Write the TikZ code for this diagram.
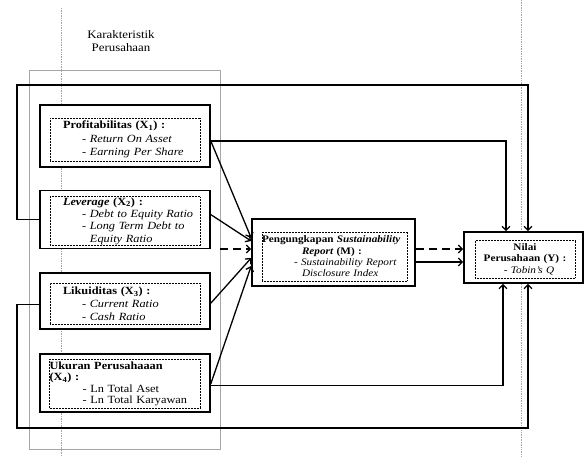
\documentclass[tikz,border=0pt]{standalone}
\usepackage{fontspec}
\setmainfont{Liberation Serif}[FakeStretch=1.12]
\usetikzlibrary{arrows.meta,positioning}

\begin{document}
\begin{tikzpicture}[x=1pt, y=-1pt,
    node distance=22pt,
    var/.style={draw, rectangle, line width=1.6pt, fill=white,
                minimum width=170pt},
    inbox/.style={draw, densely dotted, line width=0.5pt, align=left,
                  inner xsep=13pt, inner ysep=0pt, text width=124pt,
                  font=\fontsize{11}{12.8}\selectfont},
    arr/.style={-{Straight Barb[length=4pt,width=8pt]}, line width=1.3pt},
    dasharr/.style={arr, dash pattern=on 8pt off 5pt},
    page/.style={densely dotted, gray!70, line width=0.7pt},
  ]
    \useasboundingbox (0,0) rectangle (584,457);
    \draw[page] (61,8) -- (61,457);
    \draw[page] (521,0) -- (521,457);

    \node[draw=gray!70, line width=0.7pt, minimum width=191pt, minimum height=379pt] (KP) at (124.5,259.5) {};
    \node[align=center, font=\fontsize{11.5}{12.5}\selectfont] (KPt) at (121,41) {Karakteristik\\Perusahaan};

    \node[var, minimum height=62pt] (P) at (125,136) {};
    \node[var, minimum height=58pt, below=22pt of P] (L) {};
    \node[var, minimum height=56pt, below=23pt of L] (K) {};
    \node[var, minimum height=58pt, below=23pt of K] (U) {};

    \node[inbox, minimum height=43pt, font=\fontsize{11}{13.5}\selectfont] (Pin) at ([yshift=-3.5pt]P.center)
      {\mbox{\textbf{Profitabilitas (X\textsubscript{1}) :}}\\
       \mbox{\hspace*{19pt}- \textit{Return On Asset}}\\
       \mbox{\hspace*{19pt}- \textit{Earning Per Share}}};
    \node[inbox, minimum height=49pt, font=\fontsize{11}{12.3}\selectfont] (Lin) at ([yshift=-1.5pt]L.center)
      {\mbox{\textbf{\textit{Leverage} (X\textsubscript{2}) :}}\\
       \mbox{\hspace*{19pt}- \textit{Debt to Equity Ratio}}\\
       \mbox{\hspace*{19pt}- \textit{Long Term Debt to}}\\
       \mbox{\hspace*{27pt}\textit{Equity Ratio}}};
    \node[inbox, minimum height=41pt] (Kin) at ([yshift=-2.5pt]K.center)
      {\mbox{\textbf{Likuiditas (X\textsubscript{3}) :}}\\
       \mbox{\hspace*{19pt}- \textit{Current Ratio}}\\
       \mbox{\hspace*{19pt}- \textit{Cash Ratio}}};
    \node[inbox, minimum height=49pt, inner xsep=0pt, text width=151pt,
          font=\fontsize{11}{11.6}\selectfont] (Uin) at ([yshift=-1pt]U.center)
      {\mbox{\textbf{Ukuran Perusahaaan}}\\
       \mbox{\textbf{(X\textsubscript{4}) :}}\\
       \mbox{\hspace*{33pt}- Ln Total Aset}\\
       \mbox{\hspace*{33pt}- Ln Total Karyawan}};

    \node[var, minimum width=163pt, minimum height=67pt] (M) at (333.5,252.5) {};
    \node[inbox, minimum height=49pt, inner xsep=0pt, text width=145pt,
          font=\fontsize{10}{11.3}\selectfont] (Min) at (334.5,256.5)
      {\mbox{\textbf{Pengungkapan \textit{Sustainability}}}\\
       \mbox{\hspace*{40pt}\textbf{\textit{Report} (M) :}}\\
       \mbox{\hspace*{32pt}- \textit{Sustainability Report}}\\
       \mbox{\hspace*{40pt}\textit{Disclosure Index}}};

    \node[var, minimum width=119pt, minimum height=51pt] (Y) at (523.5,257.5) {};
    \node[inbox, minimum height=38pt, inner xsep=0pt, text width=100pt, align=center,
          font=\fontsize{10}{11.5}\selectfont] (Yin) at (525,259)
      {\textbf{Nilai}\\ \textbf{Perusahaan (Y) :}\\ \hspace*{8pt}- \textit{Tobin's Q}};

    \coordinate (tl) at (17,85);
    \coordinate (bl) at (17,428);
    \coordinate (md) at ([yshift=3.5pt]M.west);
    \coordinate (me) at ([yshift=3.5pt]M.east);
    \coordinate (ms) at ([yshift=-9.5pt]M.east);

    \draw[arr] (L.west) -| (tl) -| ([xshift=4.5pt]Y.north);
    \draw[arr] ([yshift=-3pt]K.west) -| (bl) -| ([xshift=4.5pt]Y.south);
    \draw[arr] ([yshift=-5pt]P.east) -| ([xshift=-17.5pt]Y.north);
    \draw[arr] ([yshift=-3pt]U.east) -| ([xshift=-20.5pt]Y.south);

    \draw[arr] ([yshift=-5pt]P.east) -- ([yshift=14.5pt]M.west);
    \draw[arr] ([yshift=5pt]L.east) -- ([yshift=11.5pt]M.west);
    \draw[arr] ([yshift=-2pt]K.east) -- ([yshift=-5.5pt]M.west);
    \draw[arr] ([yshift=-1pt]U.east) -- ([yshift=-13.5pt]M.west);
    \draw[dasharr] (KP.east |- md) -- (md);
    \draw[dasharr] (me) -- (Y.west |- me);
    \draw[arr] (ms) -- (Y.west |- ms);
\end{tikzpicture}
\end{document}
